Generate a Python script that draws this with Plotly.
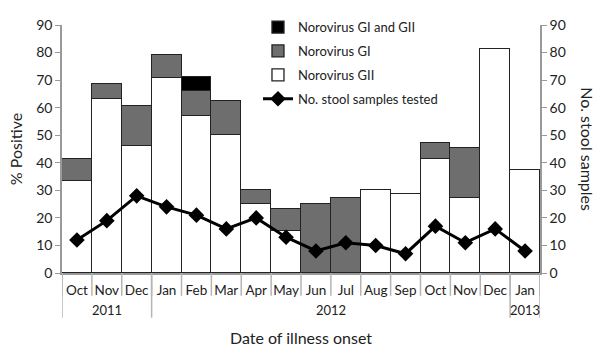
import plotly.graph_objects as go

years = ["2011"] * 3 + ["2012"] * 12 + ["2013"]
months = ["Oct", "Nov", "Dec", "Jan", "Feb", "Mar", "Apr", "May", "Jun", "Jul",
          "Aug", "Sep", "Oct", "Nov", "Dec", "Jan"]
gii = [33.3, 63.0, 46.0, 70.6, 57.0, 50.0, 25.0, 15.4, 0, 0, 30.0, 28.5, 41.2, 27.3, 81.2, 37.5]
gi = [8.2, 5.5, 14.5, 8.4, 9.2, 12.5, 5.0, 7.7, 25.0, 27.3, 0, 0, 5.8, 18.2, 0, 0]
gi_gii = [0, 0, 0, 0, 5.1, 0, 0, 0, 0, 0, 0, 0, 0, 0, 0, 0]
samples = [12, 19, 28, 24, 21, 16, 20, 13, 8, 11, 10, 7, 17, 11, 16, 8]

cats = [f"{m} {y}" for m, y in zip(months, years)]
FONT = "Lato"
edge = dict(color="#222222", width=1.3)
SEP = "#b5b5b5"

fig = go.Figure()
fig.add_trace(go.Bar(x=cats, y=gii, name="Norovirus GII", marker=dict(color="white", line=edge),
                     legendrank=3, legendgroup="c"))
fig.add_trace(go.Bar(x=cats, y=gi, name="Norovirus GI", marker=dict(color="#6e6e6e", line=edge),
                     legendrank=2, legendgroup="b"))
fig.add_trace(go.Bar(x=cats, y=gi_gii, name="Norovirus GI and GII", marker=dict(color="black", line=edge),
                     legendrank=1, legendgroup="a"))
fig.add_trace(go.Scatter(x=cats, y=samples, name="No. stool samples tested", yaxis="y2",
                         mode="lines+markers", line=dict(color="black", width=3),
                         marker=dict(symbol="diamond", size=12, color="black"),
                         legendrank=4, legendgroup="d"))

shapes = []
n = len(cats)
# month separators
for i in range(n + 1):
    shapes.append(dict(type="line", xref="x", yref="paper", x0=i - 0.5, x1=i - 0.5,
                       y0=0, y1=-24 / 261, line=dict(color=SEP, width=1.5)))
# year separators
bounds = [0]
for i in range(1, n):
    if years[i] != years[i - 1]:
        bounds.append(i)
bounds.append(n)
for b in bounds:
    shapes.append(dict(type="line", xref="x", yref="paper", x0=b - 0.5, x1=b - 0.5,
                       y0=0, y1=-47 / 261, line=dict(color=SEP, width=1.5)))

annotations = []
for a, b in zip(bounds[:-1], bounds[1:]):
    annotations.append(dict(text=years[a], xref="x", yref="paper", x=(a + b - 1) / 2,
                            y=-39 / 261, showarrow=False, font=dict(size=13),
                            xanchor="center", yanchor="middle"))
annotations.append(dict(text="No. stool samples", textangle=90, xref="paper", yref="paper",
                        x=1.1, y=0.5, showarrow=False, font=dict(size=16),
                        xanchor="center", yanchor="middle"))

fig.update_layout(
    width=600, height=354,
    margin=dict(l=62, r=60, t=12, b=81),
    barmode="stack", bargap=0,
    plot_bgcolor="white", paper_bgcolor="white",
    font=dict(family=FONT, size=13, color="#222222"),
    showlegend=True,
    legend=dict(x=0.41, y=1.052, xanchor="left", yanchor="top", traceorder="grouped",
                tracegroupgap=4, bgcolor="rgba(0,0,0,0)", font=dict(size=13), itemwidth=30),
    xaxis=dict(type="category", categoryorder="array", categoryarray=cats,
               range=[-0.5, n - 0.5],
               tickvals=cats, ticktext=months, tickangle=0,
               showline=True, linecolor="#999999", linewidth=1.5,
               ticks="", ticklabelstandoff=4, tickfont=dict(size=13.5), showgrid=False,
               automargin=False,
               title=dict(text="Date of illness onset", font=dict(size=16), standoff=36)),
    yaxis=dict(range=[0, 90], dtick=10, showline=True, linecolor="#999999", linewidth=1.5,
               ticks="outside", ticklen=5, tickcolor="#999999", showgrid=False, zeroline=False,
               tickfont=dict(size=14), automargin=False,
               title=dict(text="% Positive", font=dict(size=16), standoff=10)),
    yaxis2=dict(range=[0, 90], dtick=10, overlaying="y", side="right", showline=True,
                linecolor="#999999", linewidth=1.5, ticks="outside", ticklen=5,
                tickcolor="#999999", showgrid=False, zeroline=False, tickfont=dict(size=14),
                automargin=False),
    shapes=shapes,
    annotations=annotations,
)

fig.write_html("out.html")
